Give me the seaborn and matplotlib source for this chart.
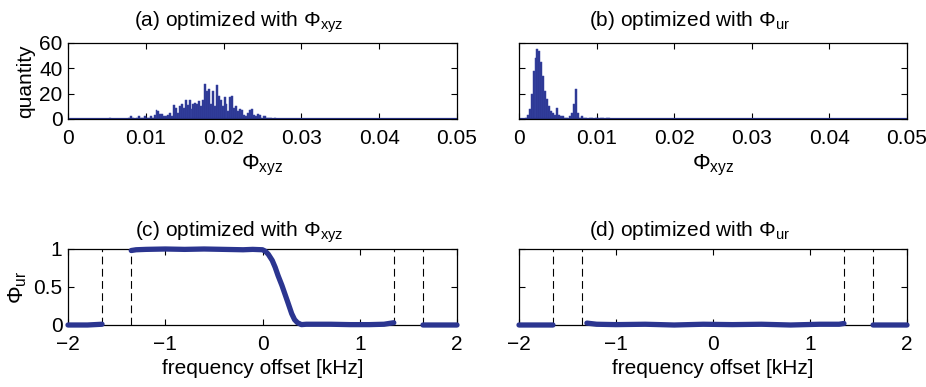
import numpy as np
import pandas as pd
import matplotlib
matplotlib.use("Agg")
import matplotlib.pyplot as plt
import seaborn as sns

# ---------------- data ----------------
bin_width = 0.00025
# (a) optimized with Phi_xyz : counts for bins starting at 0.005
a_start = 0.005
a_counts = [0, 1, 0, 0, 0, 0, 0, 0, 0, 0, 0, 1, 2, 1, 0, 1, 2, 1, 1, 2,
            1, 1, 2, 1, 3, 7, 6, 4, 4, 2, 2, 3, 5, 2, 11, 9, 5, 10, 12, 9,
            15, 11, 15, 8, 12, 13, 12, 14, 10, 15, 28, 22, 24, 12, 22, 10, 27, 18, 15, 10,
            17, 12, 6, 17, 18, 9, 10, 6, 8, 7, 3, 2, 5, 7, 8, 3, 2, 4, 3, 1,
            2, 2, 1, 1, 1, 0, 1, 0]
# (b) optimized with Phi_ur : counts for bins starting at 0.0
b_start = 0.0
b_counts = [0, 0, 0, 1, 3, 8, 20, 38, 48, 55, 54, 45, 34, 22, 16, 10, 6, 5, 3, 9,
            3, 2, 2, 1, 1, 0, 2, 5, 12, 24, 5, 1, 2, 1, 1, 0, 1, 1, 0, 1,
            1, 0, 1, 1, 0, 1, 1, 0]

# (c) optimized with Phi_xyz : Phi_ur vs frequency offset (NaN separates bands)
c_freq = [-2.0, -1.8, -1.65, np.nan,
          -1.35, -1.3, -1.2, -1.0, -0.8, -0.6, -0.4, -0.2, -0.1, 0.0, 0.03, 0.06, 0.1,
          0.13, 0.16, 0.2, 0.23, 0.26, 0.3, 0.33, 0.36, 0.4, 0.45, 0.5, 0.7, 0.9,
          1.1, 1.25, 1.35, np.nan,
          1.65, 1.8, 2.0]
c_phi = [0.0, 0.0, 0.01, np.nan,
         0.98, 0.99, 0.995, 1.0, 0.995, 1.0, 0.995, 0.99, 0.995, 0.99, 0.97, 0.93, 0.85,
         0.76, 0.65, 0.52, 0.41, 0.30, 0.15, 0.07, 0.03, 0.005, 0.01, 0.01, 0.01, 0.005,
         0.005, 0.01, 0.03, np.nan,
         0.0, 0.0, 0.0]

# (d) optimized with Phi_ur
d_freq = [-2.0, -1.8, -1.65, np.nan,
          -1.3, -1.2, -1.0, -0.7, -0.4, -0.1, 0.2, 0.5, 0.8, 1.1, 1.3, 1.35, np.nan,
          1.65, 1.8, 2.0]
d_phi = [0.0, 0.0, 0.0, np.nan,
         0.025, 0.01, 0.005, 0.01, 0.0, 0.01, 0.005, 0.01, 0.0, 0.01, 0.01, 0.02, np.nan,
         0.0, 0.0, 0.0]

band_edges = [-1.65, -1.35, 1.35, 1.65]

hist_xticks = [0, 0.01, 0.02, 0.03, 0.04, 0.05]
hist_xticklabels = ["0", "0.01", "0.02", "0.03", "0.04", "0.05"]
hist_yticks = [0, 20, 40, 60]
freq_xticks = [-2, -1, 0, 1, 2]
phi_yticks = [0, 0.5, 1]
phi_yticklabels = ["0", "0.5", "1"]

titles = [r"(a) optimized with $\Phi_{\rm xyz}$", r"(b) optimized with $\Phi_{\rm ur}$",
          r"(c) optimized with $\Phi_{\rm xyz}$", r"(d) optimized with $\Phi_{\rm ur}$"]

# ---------------- style ----------------
sns.set_style("ticks")
plt.rcParams["font.family"] = ["Liberation Sans", "DejaVu Sans"]
plt.rcParams["mathtext.fontset"] = "custom"
plt.rcParams["mathtext.rm"] = "Liberation Sans"
plt.rcParams["mathtext.it"] = "Liberation Sans"
plt.rcParams["mathtext.bf"] = "Liberation Sans"
plt.rcParams["axes.unicode_minus"] = True
for k in ("text.color", "axes.labelcolor", "xtick.color", "ytick.color", "axes.edgecolor"):
    plt.rcParams[k] = "black"

navy = "#2b3590"
fs = 15

fig = plt.figure(figsize=(9.26, 3.87), dpi=100)
W, H = 926, 387
def pos(l, r, t, b):
    return [l / W, 1 - b / H, (r - l) / W, (b - t) / H]

ax_a = fig.add_axes(pos(68, 457, 43, 119))
ax_b = fig.add_axes(pos(519, 907, 43, 119))
ax_c = fig.add_axes(pos(68, 457, 249, 325))
ax_d = fig.add_axes(pos(519, 907, 249, 325))

n_bins = 200
title_x = 0.44

def hist_panel(ax, start, counts, title, show_y):
    counts = np.asarray(counts, dtype=float)
    full_w = np.zeros(n_bins)
    i0 = int(round(start / bin_width))
    full_w[i0:i0 + len(counts)] = counts
    centers = (np.arange(n_bins) + 0.5) * bin_width
    df = pd.DataFrame({"phi": centers, "n": full_w})
    sns.histplot(data=df, x="phi", weights="n", bins=n_bins, binrange=(0, 0.05), ax=ax,
                 color=navy, alpha=1.0, edgecolor="#3a47a6", linewidth=0.35)
    ax.plot([0, 0.05], [0, 0], color=navy, lw=1.6, solid_capstyle="butt")
    ax.set_xlim(0, 0.05)
    ax.set_ylim(0, 60)
    ax.set_xticks(hist_xticks)
    ax.set_xticklabels(hist_xticklabels)
    ax.set_yticks(hist_yticks)
    if show_y:
        ax.set_ylabel("quantity", fontsize=fs, labelpad=3)
    else:
        ax.set_yticklabels([])
        ax.set_ylabel("")
    ax.set_xlabel(r"$\Phi_{\rm xyz}$", fontsize=fs + 1, labelpad=4)
    ax.set_title(title, fontsize=fs, pad=12, x=title_x)

def freq_panel(ax, f, p, title, show_y):
    df = pd.DataFrame({"f": f, "p": p})
    for e in band_edges:
        ax.axvline(e, color="black", lw=0.8, linestyle=(0, (7, 4)), zorder=1)
    ax.plot(df["f"], df["p"], color=navy, lw=3.8, solid_capstyle="round", zorder=3, clip_on=False)
    ax.set_xlim(-2, 2)
    ax.set_ylim(0, 1)
    ax.set_xticks(freq_xticks)
    ax.set_yticks(phi_yticks)
    if show_y:
        ax.set_yticklabels(phi_yticklabels)
        ax.set_ylabel(r"$\Phi_{\rm ur}$", fontsize=fs + 1, labelpad=3)
    else:
        ax.set_yticklabels([])
    ax.set_xlabel("frequency offset [kHz]", fontsize=fs, labelpad=4)
    ax.set_title(title, fontsize=fs, pad=9, x=title_x)

hist_panel(ax_a, a_start, a_counts, titles[0], True)
hist_panel(ax_b, b_start, b_counts, titles[1], False)
freq_panel(ax_c, c_freq, c_phi, titles[2], True)
freq_panel(ax_d, d_freq, d_phi, titles[3], False)

for ax in (ax_a, ax_b, ax_c, ax_d):
    for s in ax.spines.values():
        s.set_visible(True)
        s.set_color("black")
        s.set_linewidth(0.9)
    ax.tick_params(axis="both", direction="in", length=4, width=0.8, top=True, right=True,
                   labelsize=fs, colors="black")
    ax.tick_params(axis="x", pad=7)
    ax.tick_params(axis="y", pad=4)

fig.savefig("out.png", dpi=100)
